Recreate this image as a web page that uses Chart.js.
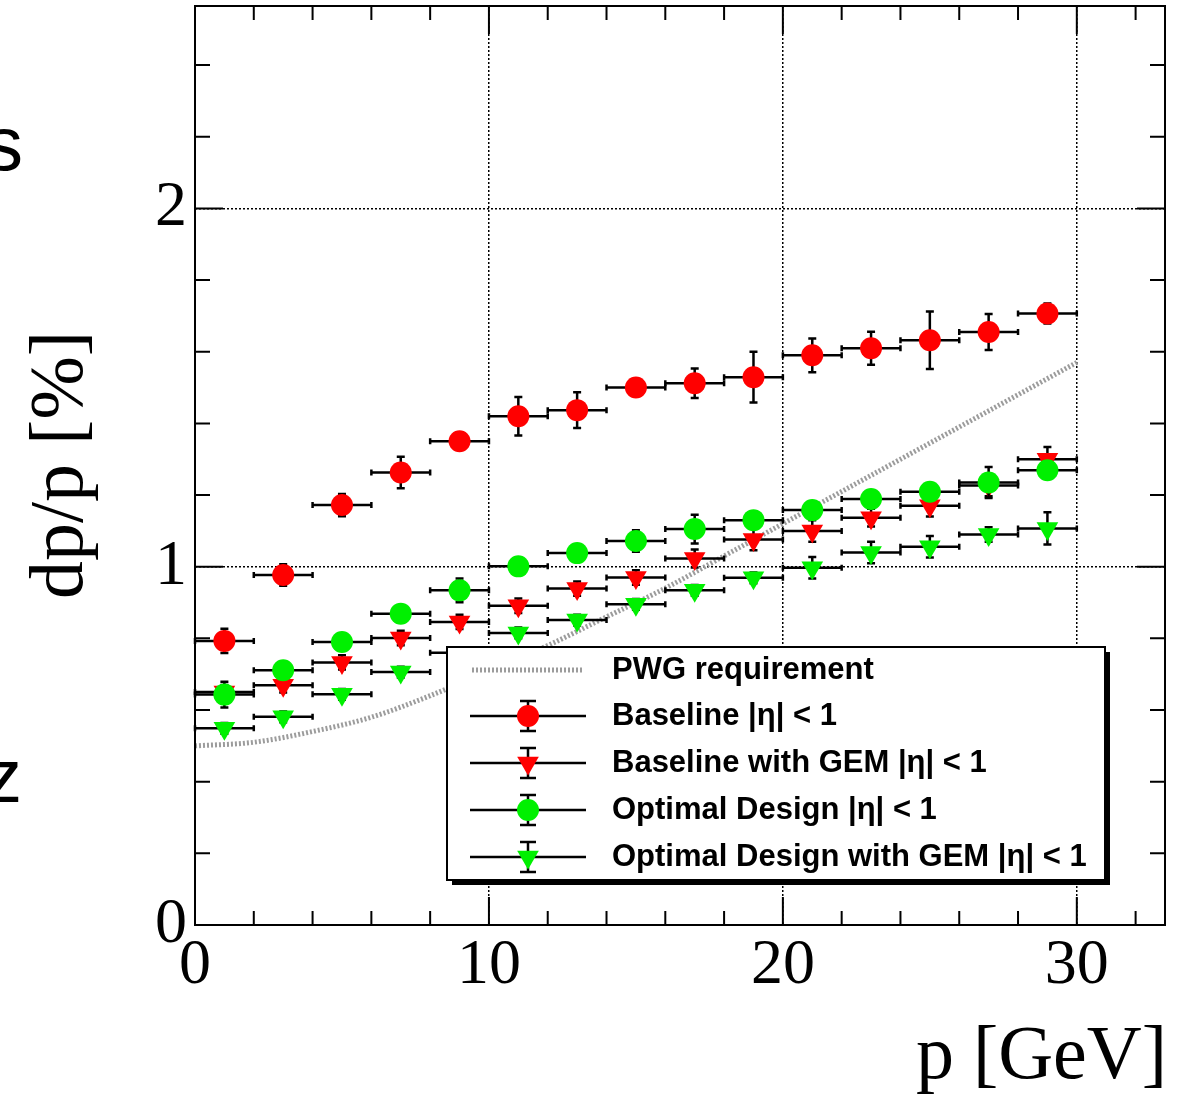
<!DOCTYPE html>
<html>
<head>
<meta charset="utf-8">
<script src="https://cdn.jsdelivr.net/npm/chart.js@4.4.1/dist/chart.umd.min.js"></script>
<style>
html, body { margin: 0; padding: 0; background: #fff; }
#wrap { width: 1179px; height: 1094px; position: relative; }
</style>
</head>
<body>
<div id="wrap"><canvas id="chart" width="1179" height="1094"></canvas></div>
<script>
// bins (bin centres, GeV), half bin width is 1 GeV
var pBins = [1, 3, 5, 7, 9, 11, 13, 15, 17, 19, 21, 23, 25, 27, 29];
var pHalfWidth = 1;

var baseline      = [0.793, 0.977, 1.172, 1.263, 1.350, 1.420, 1.437, 1.500, 1.512, 1.529, 1.590, 1.610, 1.632, 1.655, 1.707];
var baselineErr   = [0.034, 0.030, 0.031, 0.044, 0.020, 0.054, 0.050, 0.012, 0.041, 0.071, 0.047, 0.046, 0.080, 0.050, 0.028];
var baselineGem   = [0.650, 0.669, 0.733, 0.801, 0.846, 0.891, 0.939, 0.970, 1.023, 1.076, 1.100, 1.137, 1.170, 1.227, 1.300];
var baselineGemErr= [0.020, 0.020, 0.020, 0.020, 0.020, 0.020, 0.020, 0.020, 0.025, 0.030, 0.030, 0.025, 0.030, 0.030, 0.034];
var optimal       = [0.643, 0.711, 0.790, 0.869, 0.934, 1.001, 1.038, 1.072, 1.105, 1.130, 1.158, 1.189, 1.209, 1.235, 1.269];
var optimalErr    = [0.036, 0.015, 0.015, 0.015, 0.033, 0.015, 0.015, 0.030, 0.040, 0.015, 0.020, 0.015, 0.020, 0.043, 0.015];
var optimalGem    = [0.549, 0.581, 0.644, 0.706, 0.760, 0.815, 0.851, 0.895, 0.934, 0.969, 0.997, 1.040, 1.056, 1.090, 1.107];
var optimalGemErr = [0.015, 0.015, 0.015, 0.015, 0.015, 0.015, 0.015, 0.015, 0.015, 0.015, 0.030, 0.030, 0.030, 0.020, 0.045];

// PWG requirement curve
var pwgP   = [0, 2, 4, 6, 8, 10, 12, 14, 16, 18, 20, 22, 24, 26, 28, 30];
var pwgReq = [0.50, 0.51, 0.54, 0.58, 0.64, 0.71, 0.78, 0.86, 0.94, 1.03, 1.12, 1.21, 1.30, 1.39, 1.48, 1.57];

// axis ticks
var xMajorTicks = [0, 10, 20, 30];
var xMinorTicks = [2, 4, 6, 8, 12, 14, 16, 18, 22, 24, 26, 28, 32];
var yMajorTicks = [0, 1, 2];
var yMinorTicks = [0.2, 0.4, 0.6, 0.8, 1.2, 1.4, 1.6, 1.8, 2.2, 2.4];

var legendLabels = [
    'PWG requirement',
    'Baseline |\u03b7| < 1',
    'Baseline with GEM |\u03b7| < 1',
    'Optimal Design |\u03b7| < 1',
    'Optimal Design with GEM |\u03b7| < 1'
];

var RED = '#ff0000', GREEN = '#00f000', PWG_GREY = '#9c9c9c';
var TRI_R = 12.5, CIRC_R = 11;

function toPoints(xs, ys){
    return xs.map(function(x, i){ return {x: x, y: ys[i]}; });
}

function markerSet(label, vals, errs, color, style, order){
    return {
        label: label,
        data: toPoints(pBins, vals),
        errY: errs,
        showLine: false,
        pointStyle: style,
        pointRadius: style === 'triangle' ? TRI_R : CIRC_R,
        pointRotation: style === 'triangle' ? 180 : 0,
        backgroundColor: color,
        borderColor: color,
        borderWidth: 0,
        order: order
    };
}

// draws error bars under the markers of each dataset
var errorBars = {
    id: 'errorBars',
    beforeDatasetDraw: function(chart, args){
        var ds = chart.data.datasets[args.index];
        if(!ds.errY) return;
        var ctx = chart.ctx, xs = chart.scales.x, ys = chart.scales.y;
        ctx.save();
        ctx.strokeStyle = '#000';
        ctx.lineWidth = 2.5;
        ds.data.forEach(function(pt, i){
            var x0 = xs.getPixelForValue(pt.x - pHalfWidth);
            var x1 = xs.getPixelForValue(pt.x + pHalfWidth);
            var xc = xs.getPixelForValue(pt.x);
            var yc = ys.getPixelForValue(pt.y);
            var yt = ys.getPixelForValue(pt.y + ds.errY[i]);
            var yb = ys.getPixelForValue(pt.y - ds.errY[i]);
            ctx.beginPath();
            ctx.moveTo(x0, yc); ctx.lineTo(x1, yc);
            ctx.moveTo(x0, yc - 3); ctx.lineTo(x0, yc + 3);
            ctx.moveTo(x1, yc - 3); ctx.lineTo(x1, yc + 3);
            ctx.moveTo(xc, yt); ctx.lineTo(xc, yb);
            ctx.moveTo(xc - 4, yt); ctx.lineTo(xc + 4, yt);
            ctx.moveTo(xc - 4, yb); ctx.lineTo(xc + 4, yb);
            ctx.stroke();
        });
        ctx.restore();
    }
};

function drawMarker(ctx, style, color, x, y){
    ctx.fillStyle = color;
    ctx.beginPath();
    if(style === 'circle'){
        ctx.arc(x, y, CIRC_R, 0, Math.PI * 2);
    } else {
        ctx.moveTo(x, y + TRI_R);
        ctx.lineTo(x - TRI_R * 0.866, y - TRI_R / 2);
        ctx.lineTo(x + TRI_R * 0.866, y - TRI_R / 2);
        ctx.closePath();
    }
    ctx.fill();
}

// frame, inner ticks, axis titles, legend
var decorations = {
    id: 'decorations',
    afterDraw: function(chart){
        var ctx = chart.ctx, a = chart.chartArea;
        var xs = chart.scales.x, ys = chart.scales.y;
        ctx.save();
        ctx.strokeStyle = '#000';
        ctx.lineWidth = 2;
        ctx.strokeRect(a.left, a.top, a.right - a.left, a.bottom - a.top);

        ctx.beginPath();
        function xTick(v, len){
            var px = xs.getPixelForValue(v);
            ctx.moveTo(px, a.bottom); ctx.lineTo(px, a.bottom - len);
            ctx.moveTo(px, a.top); ctx.lineTo(px, a.top + len);
        }
        function yTick(v, len){
            var py = ys.getPixelForValue(v);
            ctx.moveTo(a.left, py); ctx.lineTo(a.left + len, py);
            ctx.moveTo(a.right, py); ctx.lineTo(a.right - len, py);
        }
        xMajorTicks.forEach(function(v){ xTick(v, 28); });
        xMinorTicks.forEach(function(v){ xTick(v, 14); });
        yMajorTicks.forEach(function(v){ yTick(v, 28); });
        yMinorTicks.forEach(function(v){ yTick(v, 15); });
        ctx.stroke();

        // axis titles
        ctx.fillStyle = '#000';
        ctx.font = '76px "Liberation Serif"';
        ctx.textAlign = 'right';
        ctx.textBaseline = 'alphabetic';
        ctx.fillText('p [GeV]', 1167, 1078);
        ctx.save();
        ctx.translate(82, 465);
        ctx.rotate(-Math.PI / 2);
        ctx.textAlign = 'center';
        ctx.fillText('dp/p [%]', 0, 0);
        ctx.restore();

        // clipped letters at the left border
        ctx.font = '76px "Liberation Sans"';
        ctx.textAlign = 'right';
        ctx.fillText('s', 23, 170);
        ctx.fillText('z', 22, 802);

        // legend
        var lx = 447, ly = 647, lw = 658, lh = 233;
        ctx.fillStyle = '#000';
        ctx.fillRect(lx + 5, ly + 5, lw, lh);
        ctx.fillStyle = '#fff';
        ctx.fillRect(lx, ly, lw, lh);
        ctx.lineWidth = 2;
        ctx.strokeRect(lx, ly, lw, lh);

        var rows = [670, 716, 763, 810, 857];
        var symbols = [null, ['circle', RED], ['triangle', RED], ['circle', GREEN], ['triangle', GREEN]];
        rows.forEach(function(ry, i){
            if(i === 0){
                ctx.save();
                ctx.strokeStyle = PWG_GREY;
                ctx.lineWidth = 5;
                ctx.setLineDash([2, 2]);
                ctx.beginPath();
                ctx.moveTo(472, ry); ctx.lineTo(584, ry);
                ctx.stroke();
                ctx.restore();
            } else {
                ctx.strokeStyle = '#000';
                ctx.lineWidth = 2.5;
                ctx.beginPath();
                ctx.moveTo(470, ry); ctx.lineTo(586, ry);
                ctx.moveTo(528, ry - 15); ctx.lineTo(528, ry + 15);
                ctx.moveTo(520, ry - 15); ctx.lineTo(536, ry - 15);
                ctx.moveTo(520, ry + 15); ctx.lineTo(536, ry + 15);
                ctx.stroke();
                drawMarker(ctx, symbols[i][0], symbols[i][1], 528, ry);
            }
            ctx.fillStyle = '#000';
            ctx.font = 'bold 31px "Liberation Sans"';
            ctx.textAlign = 'left';
            ctx.textBaseline = 'middle';
            ctx.fillText(legendLabels[i], 612, ry);
        });
        ctx.restore();
    }
};

var tickFont = { family: 'Liberation Serif', size: 64 };

function gridColor(c){
    return c.tick && c.tick.value === 0 ? 'rgba(0,0,0,0)' : '#000';
}

new Chart(document.getElementById('chart').getContext('2d'), {
    type: 'scatter',
    data: {
        datasets: [
            {
                label: legendLabels[0],
                data: toPoints(pwgP, pwgReq),
                showLine: true,
                borderColor: PWG_GREY,
                borderWidth: 5,
                borderDash: [2, 2],
                pointRadius: 0,
                cubicInterpolationMode: 'monotone',
                order: 5
            },
            markerSet(legendLabels[1], baseline, baselineErr, RED, 'circle', 4),
            markerSet(legendLabels[2], baselineGem, baselineGemErr, RED, 'triangle', 3),
            markerSet(legendLabels[3], optimal, optimalErr, GREEN, 'circle', 2),
            markerSet(legendLabels[4], optimalGem, optimalGemErr, GREEN, 'triangle', 1)
        ]
    },
    options: {
        responsive: false,
        animation: false,
        devicePixelRatio: 1,
        layout: { autoPadding: false, padding: { top: 6, right: 14, left: 0, bottom: 0 } },
        plugins: { legend: { display: false }, tooltip: { enabled: false } },
        scales: {
            x: {
                type: 'linear',
                min: 0, max: 33,
                afterBuildTicks: function(s){ s.ticks = xMajorTicks.map(function(v){ return {value: v}; }); },
                afterFit: function(s){ s.height = 169; s.paddingLeft = 0; s.paddingRight = 0; },
                ticks: { font: tickFont, color: '#000', padding: 3, maxRotation: 0 },
                grid: { drawTicks: false, lineWidth: 1.5, color: gridColor },
                border: { display: false, dash: [2, 2] }
            },
            y: {
                type: 'linear',
                min: 0, max: 2.565,
                afterBuildTicks: function(s){ s.ticks = yMajorTicks.map(function(v){ return {value: v}; }); },
                afterFit: function(s){ s.width = 195; s.paddingTop = 0; s.paddingBottom = 0; },
                ticks: { font: tickFont, color: '#000', padding: 8 },
                grid: { drawTicks: false, lineWidth: 1.5, color: gridColor },
                border: { display: false, dash: [2, 2] }
            }
        }
    },
    plugins: [errorBars, decorations]
});
</script>
</body>
</html>
